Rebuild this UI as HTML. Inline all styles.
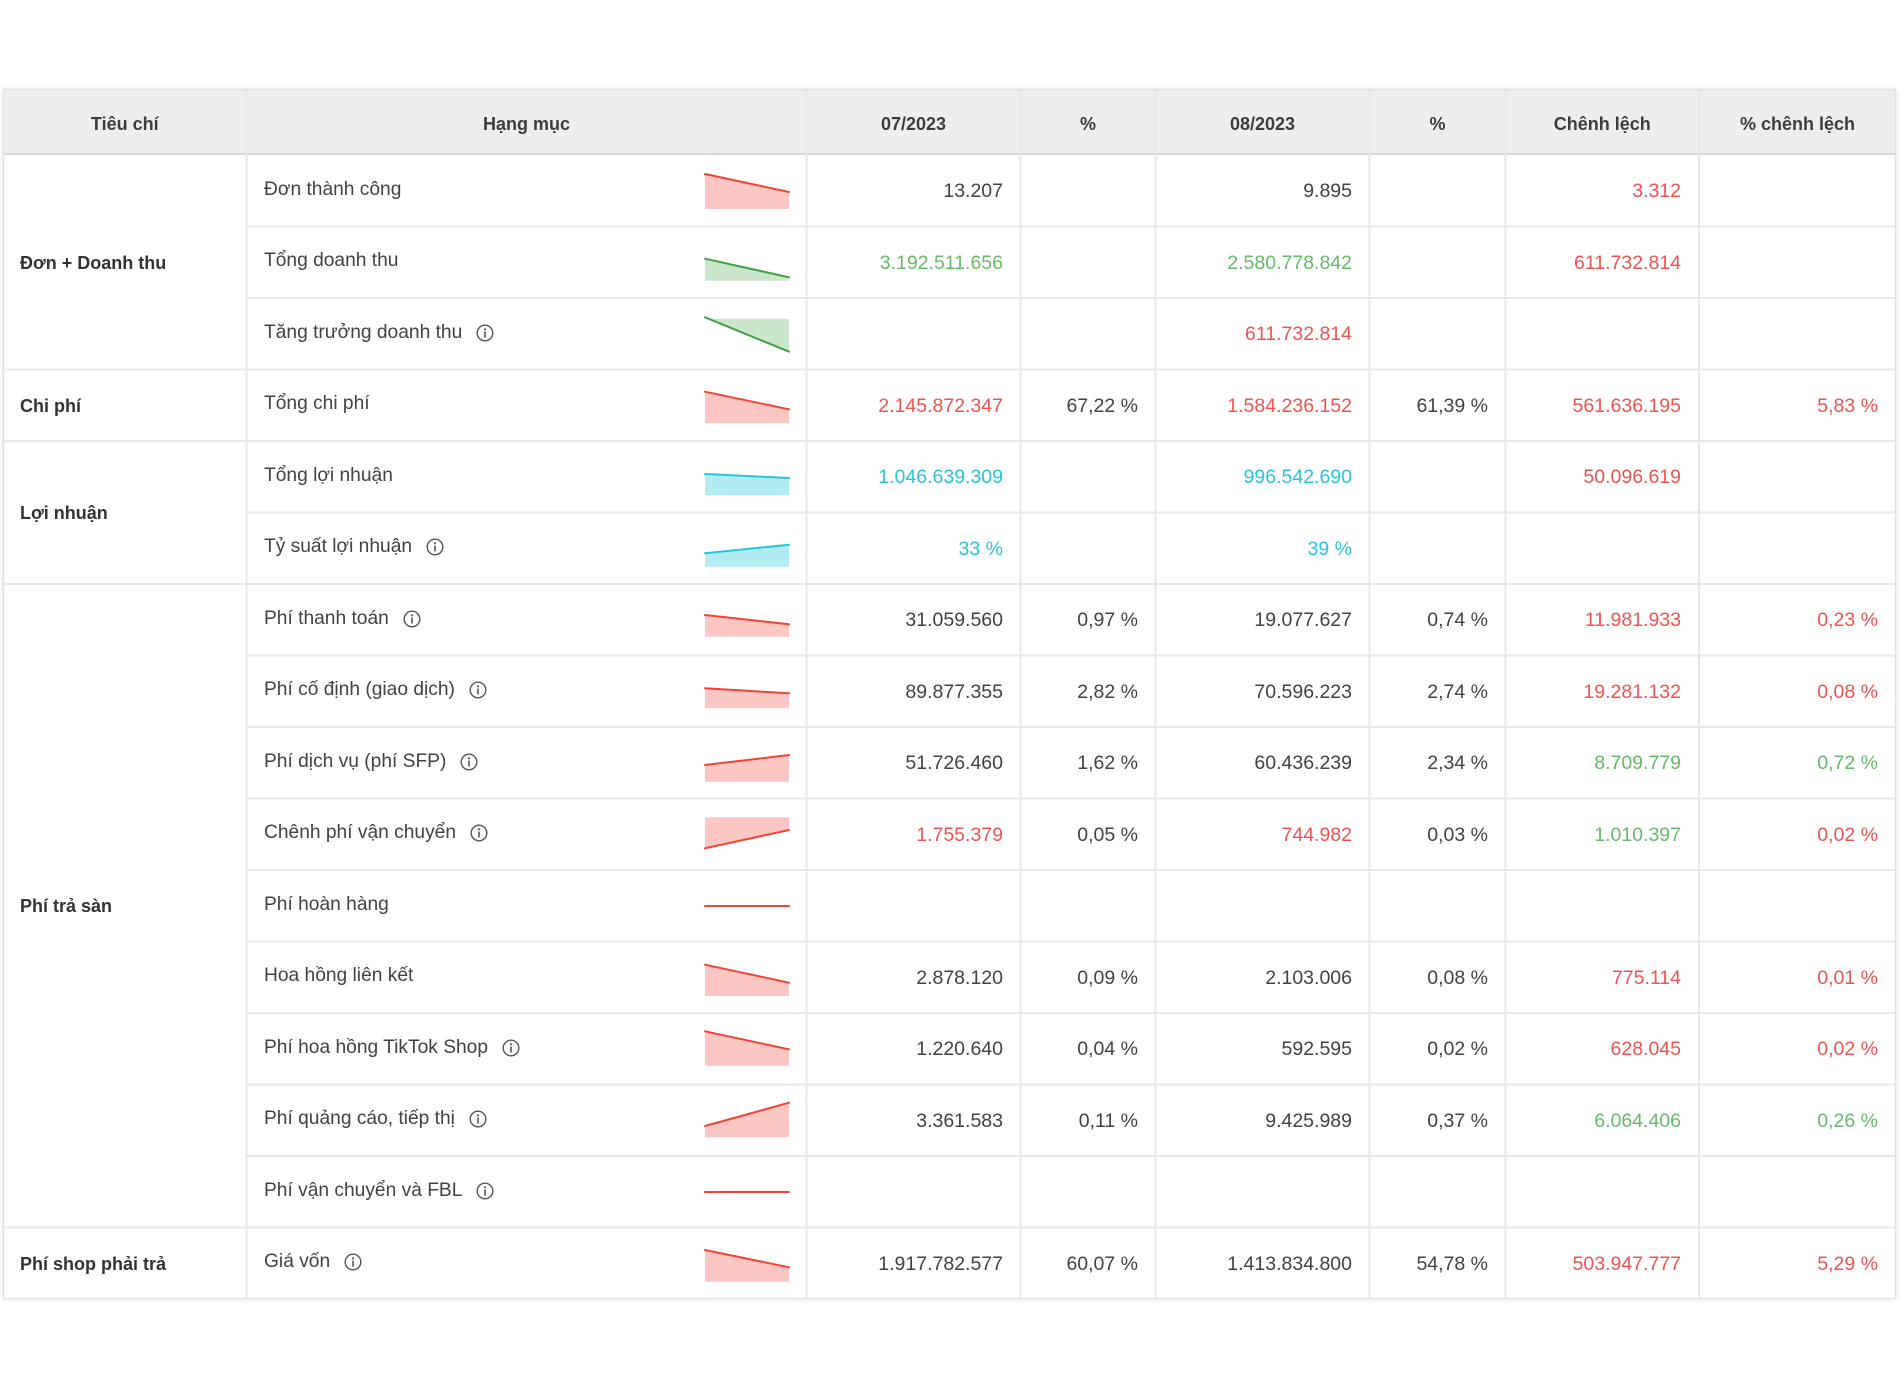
<!DOCTYPE html>
<html>
<head>
<meta charset="utf-8">
<style>
  html,body{margin:0;padding:0;background:#fff;}
  body{width:1900px;height:1389px;position:relative;overflow:hidden;font-family:"Liberation Sans",Arial,sans-serif;color:#424242;}
  .box{position:absolute;left:3px;top:89px;width:1893px;height:1210px;box-shadow:0 0 6px rgba(0,0,0,0.10);}
  svg.grid{position:absolute;left:0;top:0;}
  .c{position:absolute;display:flex;align-items:center;white-space:nowrap;}
  .h{font-weight:bold;font-size:18px;color:#3d3d3d;justify-content:center;top:92px;height:65px;}
  .g{font-weight:bold;font-size:18px;color:#333;left:20px;}
  .n{font-size:19.2px;left:264px;height:69px;}
  .v{font-size:19.5px;justify-content:flex-end;height:73px;}
  .r{color:#ef5350;} .gr{color:#66bb6a;} .cy{color:#26c6da;}
  .ic{display:inline-block;width:18px;height:18px;margin-left:14px;}
</style>
</head>
<body>
<div class="box"></div>
<svg class="grid" width="1900" height="1389" viewBox="0 0 1900 1389">
  <rect x="3" y="89" width="1893" height="1210" fill="#fff"/>
  <rect x="3" y="89" width="1893" height="65" fill="#eeeeee"/>
  <line x1="3" y1="154" x2="1896" y2="154" stroke="#d8d8d8" stroke-width="2"/>
  <g stroke="#e8e8e8" stroke-width="2">
    <line x1="246.5" y1="226.5" x2="1896" y2="226.5"/>
    <line x1="246.5" y1="298" x2="1896" y2="298"/>
    <line x1="3" y1="369.5" x2="1896" y2="369.5"/>
    <line x1="3" y1="441" x2="1896" y2="441"/>
    <line x1="246.5" y1="512.5" x2="1896" y2="512.5"/>
    <line x1="3" y1="584" x2="1896" y2="584"/>
    <line x1="246.5" y1="655.5" x2="1896" y2="655.5"/>
    <line x1="246.5" y1="727" x2="1896" y2="727"/>
    <line x1="246.5" y1="798.5" x2="1896" y2="798.5"/>
    <line x1="246.5" y1="870" x2="1896" y2="870"/>
    <line x1="246.5" y1="941.5" x2="1896" y2="941.5"/>
    <line x1="246.5" y1="1013" x2="1896" y2="1013"/>
    <line x1="246.5" y1="1084.5" x2="1896" y2="1084.5"/>
    <line x1="246.5" y1="1156" x2="1896" y2="1156"/>
    <line x1="3" y1="1227.5" x2="1896" y2="1227.5"/>
    <line x1="246.5" y1="89" x2="246.5" y2="1299"/>
    <line x1="806.5" y1="89" x2="806.5" y2="1299"/>
    <line x1="1020.5" y1="89" x2="1020.5" y2="1299"/>
    <line x1="1155.5" y1="89" x2="1155.5" y2="1299"/>
    <line x1="1369.5" y1="89" x2="1369.5" y2="1299"/>
    <line x1="1505.5" y1="89" x2="1505.5" y2="1299"/>
    <line x1="1699" y1="89" x2="1699" y2="1299"/>
  </g>
  <rect x="3.5" y="89.5" width="1892" height="1209" fill="none" stroke="#e2e2e2" stroke-width="1.5"/>

  <!-- sparklines -->
  <g stroke-width="2" stroke-linecap="round">
    <polygon points="705,174 789,192 789,209 705,209" fill="#fcc7c3"/>
    <line x1="705" y1="174" x2="789" y2="192" stroke="#f44336"/>
    <polygon points="705,258.7 789,277.3 789,280.7 705,280.7" fill="#cae7cb"/>
    <line x1="705" y1="258.7" x2="789" y2="277.3" stroke="#43a047"/>
    <polygon points="705,318.7 789,318.7 789,351.7 705,317.3" fill="#cae7cb"/>
    <line x1="705" y1="317.3" x2="789" y2="351.7" stroke="#43a047"/>
    <polygon points="705,391.7 789,409.3 789,423.3 705,423.3" fill="#fcc7c3"/>
    <line x1="705" y1="391.7" x2="789" y2="409.3" stroke="#f44336"/>
    <polygon points="705,474 789,478 789,495.3 705,495.3" fill="#b1ecf3"/>
    <line x1="705" y1="474" x2="789" y2="478" stroke="#26c6da"/>
    <polygon points="705,553.3 789,544.7 789,566.7 705,566.7" fill="#b1ecf3"/>
    <line x1="705" y1="553.3" x2="789" y2="544.7" stroke="#26c6da"/>
    <polygon points="705,615 789,624.3 789,636.7 705,636.7" fill="#fcc7c3"/>
    <line x1="705" y1="615" x2="789" y2="624.3" stroke="#f44336"/>
    <polygon points="705,688.3 789,693.3 789,708.3 705,708.3" fill="#fcc7c3"/>
    <line x1="705" y1="688.3" x2="789" y2="693.3" stroke="#f44336"/>
    <polygon points="705,765 789,755 789,781.7 705,781.7" fill="#fcc7c3"/>
    <line x1="705" y1="765" x2="789" y2="755" stroke="#f44336"/>
    <polygon points="705,817.3 789,817.3 789,830 705,848.3" fill="#fcc7c3"/>
    <line x1="705" y1="848.3" x2="789" y2="830" stroke="#f44336"/>
    <line x1="705" y1="906" x2="789" y2="906" stroke="#f44336"/>
    <polygon points="705,964.7 789,982.7 789,996 705,996" fill="#fcc7c3"/>
    <line x1="705" y1="964.7" x2="789" y2="982.7" stroke="#f44336"/>
    <polygon points="705,1031.3 789,1049.3 789,1065.7 705,1065.7" fill="#fcc7c3"/>
    <line x1="705" y1="1031.3" x2="789" y2="1049.3" stroke="#f44336"/>
    <polygon points="705,1126 789,1102.7 789,1137.3 705,1137.3" fill="#fcc7c3"/>
    <line x1="705" y1="1126" x2="789" y2="1102.7" stroke="#f44336"/>
    <line x1="705" y1="1192" x2="789" y2="1192" stroke="#f44336"/>
    <polygon points="705,1250 789,1267.3 789,1281.7 705,1281.7" fill="#fcc7c3"/>
    <line x1="705" y1="1250" x2="789" y2="1267.3" stroke="#f44336"/>
  </g>
</svg>

<!-- header -->
<div class="c h" style="left:3px;width:243.5px;">Tiêu chí</div>
<div class="c h" style="left:246.5px;width:560px;">Hạng mục</div>
<div class="c h" style="left:806.5px;width:214px;">07/2023</div>
<div class="c h" style="left:1020.5px;width:135px;">%</div>
<div class="c h" style="left:1155.5px;width:214px;">08/2023</div>
<div class="c h" style="left:1369.5px;width:136px;">%</div>
<div class="c h" style="left:1505.5px;width:193.5px;">Chênh lệch</div>
<div class="c h" style="left:1699px;width:197px;">% chênh lệch</div>

<!-- group labels -->
<div class="c g" style="top:156px;height:214.5px;">Đơn + Doanh thu</div>
<div class="c g" style="top:370.5px;height:71.5px;">Chi phí</div>
<div class="c g" style="top:442px;height:143px;">Lợi nhuận</div>
<div class="c g" style="top:585px;height:643.5px;">Phí trả sàn</div>
<div class="c g" style="top:1228.5px;height:71.5px;">Phí shop phải trả</div>

<!-- item names -->
<div class="c n" style="top:155px;">Đơn thành công</div>
<div class="c n" style="top:226.5px;">Tổng doanh thu</div>
<div class="c n" style="top:298px;">Tăng trưởng doanh thu<svg class="ic" viewBox="0 0 18 18"><circle cx="9" cy="9" r="7.8" fill="none" stroke="#555" stroke-width="1.4"/><circle cx="9" cy="5.3" r="1.1" fill="#555"/><rect x="8.2" y="7.5" width="1.6" height="6" fill="#555"/></svg></div>
<div class="c n" style="top:369.5px;">Tổng chi phí</div>
<div class="c n" style="top:441px;">Tổng lợi nhuận</div>
<div class="c n" style="top:512.5px;">Tỷ suất lợi nhuận<svg class="ic" viewBox="0 0 18 18"><circle cx="9" cy="9" r="7.8" fill="none" stroke="#555" stroke-width="1.4"/><circle cx="9" cy="5.3" r="1.1" fill="#555"/><rect x="8.2" y="7.5" width="1.6" height="6" fill="#555"/></svg></div>
<div class="c n" style="top:584px;">Phí thanh toán<svg class="ic" viewBox="0 0 18 18"><circle cx="9" cy="9" r="7.8" fill="none" stroke="#555" stroke-width="1.4"/><circle cx="9" cy="5.3" r="1.1" fill="#555"/><rect x="8.2" y="7.5" width="1.6" height="6" fill="#555"/></svg></div>
<div class="c n" style="top:655.5px;">Phí cố định (giao dịch)<svg class="ic" viewBox="0 0 18 18"><circle cx="9" cy="9" r="7.8" fill="none" stroke="#555" stroke-width="1.4"/><circle cx="9" cy="5.3" r="1.1" fill="#555"/><rect x="8.2" y="7.5" width="1.6" height="6" fill="#555"/></svg></div>
<div class="c n" style="top:727px;">Phí dịch vụ (phí SFP)<svg class="ic" viewBox="0 0 18 18"><circle cx="9" cy="9" r="7.8" fill="none" stroke="#555" stroke-width="1.4"/><circle cx="9" cy="5.3" r="1.1" fill="#555"/><rect x="8.2" y="7.5" width="1.6" height="6" fill="#555"/></svg></div>
<div class="c n" style="top:798.5px;">Chênh phí vận chuyển<svg class="ic" viewBox="0 0 18 18"><circle cx="9" cy="9" r="7.8" fill="none" stroke="#555" stroke-width="1.4"/><circle cx="9" cy="5.3" r="1.1" fill="#555"/><rect x="8.2" y="7.5" width="1.6" height="6" fill="#555"/></svg></div>
<div class="c n" style="top:870px;">Phí hoàn hàng</div>
<div class="c n" style="top:941.5px;">Hoa hồng liên kết</div>
<div class="c n" style="top:1013px;">Phí hoa hồng TikTok Shop<svg class="ic" viewBox="0 0 18 18"><circle cx="9" cy="9" r="7.8" fill="none" stroke="#555" stroke-width="1.4"/><circle cx="9" cy="5.3" r="1.1" fill="#555"/><rect x="8.2" y="7.5" width="1.6" height="6" fill="#555"/></svg></div>
<div class="c n" style="top:1084.5px;">Phí quảng cáo, tiếp thị<svg class="ic" viewBox="0 0 18 18"><circle cx="9" cy="9" r="7.8" fill="none" stroke="#555" stroke-width="1.4"/><circle cx="9" cy="5.3" r="1.1" fill="#555"/><rect x="8.2" y="7.5" width="1.6" height="6" fill="#555"/></svg></div>
<div class="c n" style="top:1156px;">Phí vận chuyển và FBL<svg class="ic" viewBox="0 0 18 18"><circle cx="9" cy="9" r="7.8" fill="none" stroke="#555" stroke-width="1.4"/><circle cx="9" cy="5.3" r="1.1" fill="#555"/><rect x="8.2" y="7.5" width="1.6" height="6" fill="#555"/></svg></div>
<div class="c n" style="top:1227.5px;">Giá vốn<svg class="ic" viewBox="0 0 18 18"><circle cx="9" cy="9" r="7.8" fill="none" stroke="#555" stroke-width="1.4"/><circle cx="9" cy="5.3" r="1.1" fill="#555"/><rect x="8.2" y="7.5" width="1.6" height="6" fill="#555"/></svg></div>

<!-- values -->
<div class="c v" style="top:155px;right:897px;">13.207</div>
<div class="c v" style="top:155px;right:548px;">9.895</div>
<div class="c v r" style="top:155px;right:219px;">3.312</div>

<div class="c v gr" style="top:226.5px;right:897px;">3.192.511.656</div>
<div class="c v gr" style="top:226.5px;right:548px;">2.580.778.842</div>
<div class="c v r" style="top:226.5px;right:219px;">611.732.814</div>

<div class="c v r" style="top:298px;right:548px;">611.732.814</div>

<div class="c v r" style="top:369.5px;right:897px;">2.145.872.347</div>
<div class="c v" style="top:369.5px;right:762px;">67,22 %</div>
<div class="c v r" style="top:369.5px;right:548px;">1.584.236.152</div>
<div class="c v" style="top:369.5px;right:412px;">61,39 %</div>
<div class="c v r" style="top:369.5px;right:219px;">561.636.195</div>
<div class="c v r" style="top:369.5px;right:22px;">5,83 %</div>

<div class="c v cy" style="top:441px;right:897px;">1.046.639.309</div>
<div class="c v cy" style="top:441px;right:548px;">996.542.690</div>
<div class="c v r" style="top:441px;right:219px;">50.096.619</div>

<div class="c v cy" style="top:512.5px;right:897px;">33 %</div>
<div class="c v cy" style="top:512.5px;right:548px;">39 %</div>

<div class="c v" style="top:584px;right:897px;">31.059.560</div>
<div class="c v" style="top:584px;right:762px;">0,97 %</div>
<div class="c v" style="top:584px;right:548px;">19.077.627</div>
<div class="c v" style="top:584px;right:412px;">0,74 %</div>
<div class="c v r" style="top:584px;right:219px;">11.981.933</div>
<div class="c v r" style="top:584px;right:22px;">0,23 %</div>

<div class="c v" style="top:655.5px;right:897px;">89.877.355</div>
<div class="c v" style="top:655.5px;right:762px;">2,82 %</div>
<div class="c v" style="top:655.5px;right:548px;">70.596.223</div>
<div class="c v" style="top:655.5px;right:412px;">2,74 %</div>
<div class="c v r" style="top:655.5px;right:219px;">19.281.132</div>
<div class="c v r" style="top:655.5px;right:22px;">0,08 %</div>

<div class="c v" style="top:727px;right:897px;">51.726.460</div>
<div class="c v" style="top:727px;right:762px;">1,62 %</div>
<div class="c v" style="top:727px;right:548px;">60.436.239</div>
<div class="c v" style="top:727px;right:412px;">2,34 %</div>
<div class="c v gr" style="top:727px;right:219px;">8.709.779</div>
<div class="c v gr" style="top:727px;right:22px;">0,72 %</div>

<div class="c v r" style="top:798.5px;right:897px;">1.755.379</div>
<div class="c v" style="top:798.5px;right:762px;">0,05 %</div>
<div class="c v r" style="top:798.5px;right:548px;">744.982</div>
<div class="c v" style="top:798.5px;right:412px;">0,03 %</div>
<div class="c v gr" style="top:798.5px;right:219px;">1.010.397</div>
<div class="c v r" style="top:798.5px;right:22px;">0,02 %</div>

<div class="c v" style="top:941.5px;right:897px;">2.878.120</div>
<div class="c v" style="top:941.5px;right:762px;">0,09 %</div>
<div class="c v" style="top:941.5px;right:548px;">2.103.006</div>
<div class="c v" style="top:941.5px;right:412px;">0,08 %</div>
<div class="c v r" style="top:941.5px;right:219px;">775.114</div>
<div class="c v r" style="top:941.5px;right:22px;">0,01 %</div>

<div class="c v" style="top:1013px;right:897px;">1.220.640</div>
<div class="c v" style="top:1013px;right:762px;">0,04 %</div>
<div class="c v" style="top:1013px;right:548px;">592.595</div>
<div class="c v" style="top:1013px;right:412px;">0,02 %</div>
<div class="c v r" style="top:1013px;right:219px;">628.045</div>
<div class="c v r" style="top:1013px;right:22px;">0,02 %</div>

<div class="c v" style="top:1084.5px;right:897px;">3.361.583</div>
<div class="c v" style="top:1084.5px;right:762px;">0,11 %</div>
<div class="c v" style="top:1084.5px;right:548px;">9.425.989</div>
<div class="c v" style="top:1084.5px;right:412px;">0,37 %</div>
<div class="c v gr" style="top:1084.5px;right:219px;">6.064.406</div>
<div class="c v gr" style="top:1084.5px;right:22px;">0,26 %</div>

<div class="c v" style="top:1227.5px;right:897px;">1.917.782.577</div>
<div class="c v" style="top:1227.5px;right:762px;">60,07 %</div>
<div class="c v" style="top:1227.5px;right:548px;">1.413.834.800</div>
<div class="c v" style="top:1227.5px;right:412px;">54,78 %</div>
<div class="c v r" style="top:1227.5px;right:219px;">503.947.777</div>
<div class="c v r" style="top:1227.5px;right:22px;">5,29 %</div>
</body>
</html>
